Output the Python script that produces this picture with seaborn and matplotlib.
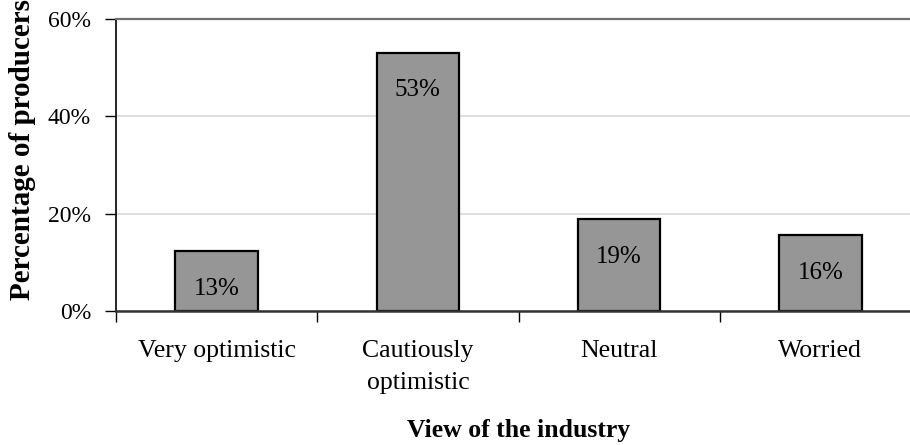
import matplotlib
matplotlib.use("Agg")
import matplotlib.pyplot as plt
import seaborn as sns
import pandas as pd
from matplotlib.ticker import PercentFormatter, FixedLocator

categories = ["Very optimistic", "Cautiously\noptimistic", "Neutral", "Worried"]
values = [12.3, 53.1, 18.9, 15.6]
bar_labels = ["13%", "53%", "19%", "16%"]
y_ticks = [0, 20, 40, 60]

sns.set_theme(style="white")
plt.rcParams["font.family"] = ["Liberation Serif", "DejaVu Serif"]
plt.rcParams["text.color"] = "black"
plt.rcParams["axes.labelcolor"] = "black"
plt.rcParams["xtick.color"] = "black"
plt.rcParams["ytick.color"] = "black"

df = pd.DataFrame({"view": categories, "pct": values})

fig = plt.figure(figsize=(9.1, 4.45), dpi=100)
ax = fig.add_axes([116 / 910, 1 - 311 / 445, 805 / 910, 292 / 445])

sns.barplot(data=df, x="view", y="pct", color="#969696", edgecolor="black",
            linewidth=1.6, width=0.41, saturation=1, ax=ax)

ax.set_xlim(-0.5, 3.5)
ax.set_ylim(0, 60)
ax.yaxis.set_major_locator(FixedLocator(y_ticks))
ax.yaxis.set_major_formatter(PercentFormatter(decimals=0))
ax.grid(axis="y", color="#d9d9d9", linewidth=1.2)
ax.set_axisbelow(True)

ax.spines["right"].set_visible(False)
ax.spines["top"].set_color("#707070")
ax.spines["top"].set_linewidth(1.6)
ax.spines["left"].set_color("black")
ax.spines["left"].set_linewidth(1.2)
ax.spines["bottom"].set_color("#333333")
ax.spines["bottom"].set_linewidth(1.8)

ax.tick_params(axis="y", which="major", direction="out", length=8, width=1,
               pad=10, labelsize=17, left=True)
ax.tick_params(axis="x", which="major", length=0, pad=21, labelsize=18.5)
ax.set_xticks([i - 0.5 for i in range(len(categories) + 1)], minor=True)
ax.tick_params(axis="x", which="minor", direction="out", length=8, width=1,
               bottom=True)
for lab in ax.get_xticklabels():
    lab.set_linespacing(1.6)
    lab.set_va("top")

ax.set_xlabel("View of the industry", fontsize=18.5, fontweight="bold", labelpad=17.5)
ax.set_ylabel("")

for i, (v, txt) in enumerate(zip(values, bar_labels)):
    ax.annotate(txt, xy=(i, v), xytext=(0, -27), textcoords="offset points",
                ha="center", va="center", fontsize=18)

fig.text(23 / 910, 1 - 300 / 445, "Percentage of producers", rotation=90,
         ha="center", va="bottom", fontsize=21, fontweight="bold")

fig.savefig("out.png", dpi=100)
